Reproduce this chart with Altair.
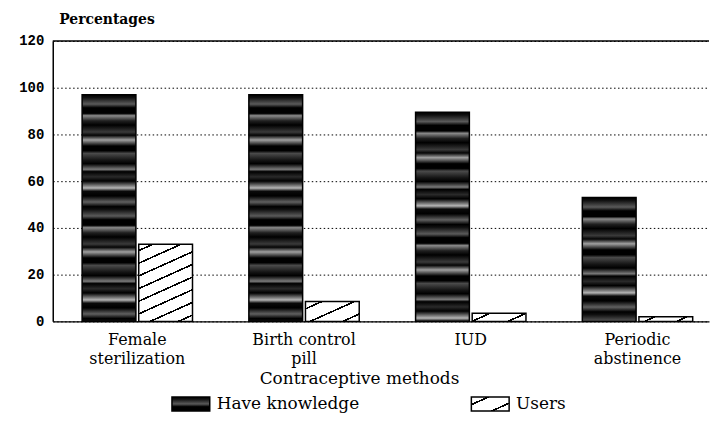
import math
import altair as alt
import pandas as pd

# ---- data ----
METHODS = ["Female\nsterilization", "Birth control\npill", "IUD", "Periodic\nabstinence"]
SERIES = ["Have knowledge", "Users"]
KNOWLEDGE = [97, 97, 89.5, 53]
USERS = [33, 8.5, 3.5, 2]
Y_TICKS = [0, 20, 40, 60, 80, 100, 120]

# ---- layout / style ----
W, H = 660, 282
PX_PER_UNIT = H / Y_TICKS[-1]
BAR_W = 54.0
SERIF = "DejaVu Serif"

rows = []
for i, m in enumerate(METHODS):
    rows.append({"method": m, "series": SERIES[0], "value": KNOWLEDGE[i]})
    rows.append({"method": m, "series": SERIES[1], "value": USERS[i]})
df = pd.DataFrame(rows)
df["bar"] = range(len(df))


def hatch(w, h, s=0.45, p=12.0, lw=1.6):
    """Diagonal '/' hatching as a linear gradient in bounding-box units."""
    h = max(h, 1.0)
    gx0, gy0 = s / h, 1.0 / w
    c = (gx0 + gy0) / (gx0 * gx0 + gy0 * gy0)
    gx, gy = c * gx0, c * gy0
    dist = (s * w + h) / math.sqrt(1 + s * s)
    k_n = max(1, round(dist / p))
    f = min(lw / dist, 0.4 / k_n)
    stops = [{"offset": 0, "color": "white"}]
    for k in range(k_n):
        mid = (k + 0.5) / k_n
        a, b = mid - f / 2, mid + f / 2
        stops += [
            {"offset": a, "color": "white"},
            {"offset": a, "color": "black"},
            {"offset": b, "color": "black"},
            {"offset": b, "color": "white"},
        ]
    stops.append({"offset": 1, "color": "white"})
    return {"gradient": "linear", "x1": 0, "y1": 0, "x2": gx, "y2": gy, "stops": stops}


# speckled dark texture (fixed shade sequence, uneven band widths)
SHADES = ["#000000", "#101010", "#5a5a5a", "#000000", "#000000", "#8a8a8a",
          "#202020", "#000000", "#3a3a3a", "#050505", "#a0a0a0", "#000000",
          "#000000", "#4a4a4a", "#151515", "#000000", "#7a7a7a", "#000000",
          "#2a2a2a", "#000000", "#b5b5b5", "#0a0a0a", "#000000", "#606060"]
STEPS = [1.0, 0.6, 1.4, 0.8, 1.2, 0.5, 1.1, 0.9, 1.5, 0.7, 1.0, 1.3]


def texture(h, period=4.5):
    n = max(3, int(h / period))
    pos = [0.0]
    for j in range(1, n):
        pos.append(pos[-1] + STEPS[j % len(STEPS)])
    tot = pos[-1]
    stops = [{"offset": p / tot, "color": SHADES[j % len(SHADES)]} for j, p in enumerate(pos)]
    return {"gradient": "linear", "x1": 0, "y1": 0, "x2": 0, "y2": 1, "stops": stops}


conds = []
for _, r in df.iterrows():
    hp = r["value"] * PX_PER_UNIT
    g = hatch(BAR_W, hp) if r["series"] == SERIES[1] else texture(hp)
    conds.append({"test": f"datum.bar === {int(r['bar'])}", "value": g})

bars = alt.Chart(df).mark_bar(stroke="black", strokeWidth=1.5).encode(
    x=alt.X(
        "method:N",
        sort=METHODS,
        scale=alt.Scale(paddingInner=0.338, paddingOuter=0.137, align=0.643),
        axis=alt.Axis(
            title="Contraceptive methods",
            labelExpr="split(datum.label, '\\n')",
            labelAngle=0,
            labelFont=SERIF,
            labelFontSize=16,
            labelLineHeight=19,
            labelBaseline="top",
            labelPadding=10,
            labelColor="black",
            ticks=False,
            domainColor="black",
            domainWidth=1.5,
            titleFont=SERIF,
            titleFontSize=17,
            titleFontWeight="normal",
            titleColor="black",
            titleX=308,
            titleY=49,
            titleBaseline="top",
        ),
    ),
    xOffset=alt.XOffset("series:N", sort=SERIES, scale=alt.Scale(paddingInner=0.05)),
    y=alt.Y(
        "value:Q",
        scale=alt.Scale(domain=[Y_TICKS[0], Y_TICKS[-1]]),
        axis=alt.Axis(
            values=Y_TICKS,
            title="Percentages",
            titleAngle=0,
            titleAlign="left",
            titleBaseline="alphabetic",
            titleX=6,
            titleY=-18,
            titleFont=SERIF,
            titleFontSize=14,
            titleFontWeight="bold",
            titleColor="black",
            labelFont="Liberation Mono",
            labelFontWeight="bold",
            labelFontSize=14,
            labelColor="black",
            labelPadding=9,
            ticks=False,
            domainColor="black",
            domainWidth=1.5,
            grid=True,
            gridColor="black",
            gridDash=[1.5, 2.5],
            gridWidth=1,
        ),
    ),
    fill=alt.FillValue(value="#222222", condition=conds),
)

top_rule = alt.Chart(pd.DataFrame({"v": [Y_TICKS[-1]]})).mark_rule(
    color="black", strokeWidth=1.5
).encode(y="v:Q")

main = alt.layer(bars, top_rule).properties(width=W, height=H)

# ---- legend drawn as its own small chart ----
leg_df = pd.DataFrame({"series": SERIES})
leg_conds = [
    {"test": f"datum.series === '{SERIES[0]}'", "value": texture(14, period=2.5)},
    {"test": f"datum.series === '{SERIES[1]}'", "value": hatch(38, 14)},
]
leg_base = alt.Chart(leg_df).encode(
    x=alt.X("series:N", sort=SERIES,
            scale=alt.Scale(type="point", padding=0.596, align=0.387), axis=None)
)
swatch = leg_base.mark_point(
    shape="M-1,-0.37H1V0.37H-1Z", size=1444, filled=True, opacity=1,
    stroke="black", strokeWidth=1.5
).encode(fill=alt.FillValue(value="#222222", condition=leg_conds))
leg_text = leg_base.mark_text(
    align="left", baseline="middle", dx=26, font=SERIF, fontSize=17, color="black"
).encode(text="series:N")
legend = alt.layer(swatch, leg_text).properties(width=W, height=20)

chart = alt.vconcat(main, legend, spacing=7).properties(
    background="white",
    padding={"left": 10, "top": 3, "right": 0, "bottom": 0},
).configure_view(strokeWidth=0)

chart.save("out.html", embed_options={"renderer": "svg", "actions": False})
